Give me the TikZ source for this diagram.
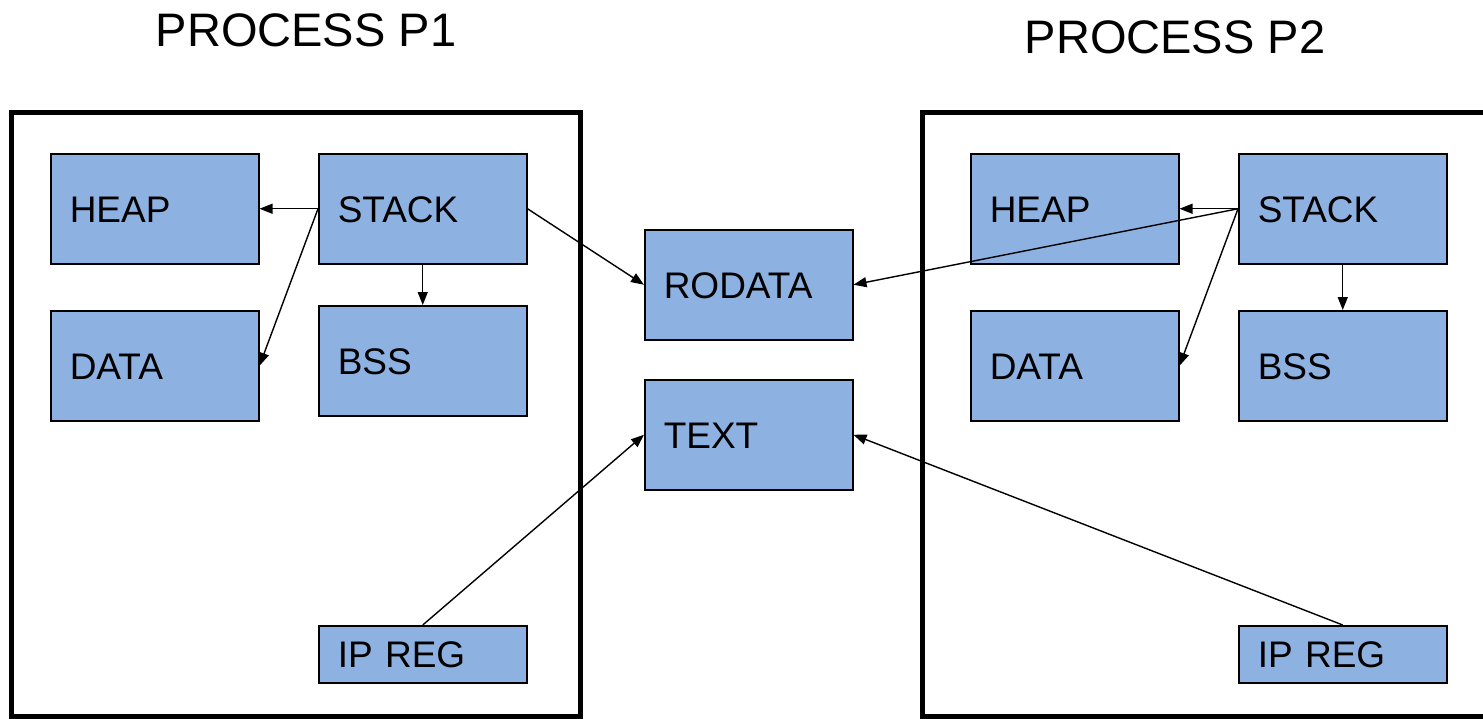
\documentclass[tikz,border=0pt]{standalone}
\usepackage{fontspec}
\setmainfont{Liberation Sans}
\usetikzlibrary{arrows.meta}
\definecolor{boxblue}{RGB}{141,178,226}
\tikzset{
  blk/.style={draw=black, line width=1.5pt, fill=boxblue, rectangle, anchor=north west,
    minimum width=208pt, minimum height=110pt, text width=170pt, inner xsep=19pt, inner ysep=0pt,
    align=left, font=\fontsize{37}{37}\selectfont, text height=26.5pt, text depth=0pt},
  proc/.style={draw=black, line width=5pt},
  title/.style={font=\fontsize{47}{47}\selectfont, text height=34pt, text depth=0pt, inner sep=0pt},
  arr/.style={line width=1.4pt, -{Triangle[length=13pt,width=10pt]}}
}
\begin{document}
\begin{tikzpicture}[x=1pt,y=-1pt]
\clip (0,0) rectangle (1483,718);
\fill[white] (0,0) rectangle (1483,718);
% titles
\node[title] (t1) at (306,29) {PROCESS P1};
\node[title] (t2) at (1175,36) {PROCESS P2};
% process frames
\draw[proc] (11,112) rectangle (580,716);
\draw[proc] (1520,716) -- (922,716) -- (922,112) -- (1520,112);
% process 1
\node[blk] (heapA) at (50,153) {HEAP};
\node[blk] (stackA) at (318,153) {STACK};
\node[blk] (dataA) at (50,310) {DATA};
\node[blk] (bssA) at (318,305) {BSS};
\node[blk, minimum height=57pt] (ipA) at (318,625) {IP REG};
% shared
\node[blk] (rodata) at (644,229) {RODATA};
\node[blk] (text) at (644,379) {TEXT};
% process 2
\node[blk] (heapB) at (970,153) {HEAP};
\node[blk] (stackB) at (1238,153) {STACK};
\node[blk] (dataB) at (970,310) {DATA};
\node[blk] (bssB) at (1238,310) {BSS};
\node[blk, minimum height=57pt] (ipB) at (1238,625) {IP REG};
% arrows process 1
\draw[arr] (stackA.west) -- (heapA.east);
\draw[arr] (stackA.west) -- (dataA.east);
\draw[arr] (stackA.south) -- (bssA.north);
\draw[arr] (stackA.east) -- (rodata.west);
\draw[arr] (ipA.north) -- (text.west);
% arrows process 2
\draw[arr] (stackB.west) -- (heapB.east);
\draw[arr] (stackB.west) -- (dataB.east);
\draw[arr] (stackB.south) -- (bssB.north);
\draw[arr] (stackB.west) -- (rodata.east);
\draw[arr] (ipB.north) -- (text.east);
\end{tikzpicture}
\end{document}
